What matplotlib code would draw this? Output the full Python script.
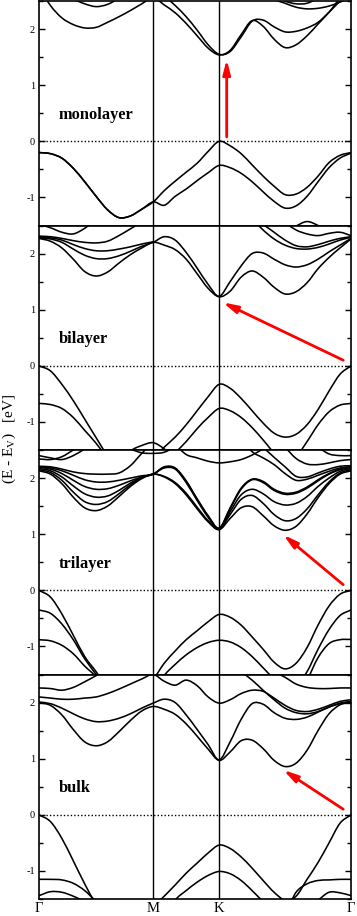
import numpy as np
import matplotlib
matplotlib.use('Agg')
import matplotlib.pyplot as plt
from matplotlib.ticker import MultipleLocator
from matplotlib.path import Path
from matplotlib.patches import PathPatch

nan = np.nan
N = None

# ---- k-path (Gamma - M - K - Gamma) ----
k_G1, k_M, k_K, k_G2 = 0.0, 0.5774, 0.9107, 1.5774
kpath = np.concatenate([np.linspace(k_G1, k_M, 11),
                        np.linspace(k_M, k_K, 7)[1:],
                        np.linspace(k_K, k_G2, 13)[1:]])
kpoint_labels = ['\u0393', 'M', 'K', '\u0393']

# ---- monolayer bands (G-M: 11 | M-K: 6 | K-G: 12) ----
mono_v1 = [-0.20,-0.22,-0.30,-0.48,-0.72,-0.98,-1.22,-1.36,-1.33,-1.21,-1.08,
           -0.88,-0.71,-0.55,-0.39,-0.18, 0.00,
           -0.08,-0.22,-0.42,-0.62,-0.80,-0.95,-0.94,-0.82,-0.62,-0.38,-0.25,-0.20]
mono_v2 = [-0.20,-0.22,-0.30,-0.48,-0.72,-0.98,-1.22,-1.36,-1.33,-1.21,-1.08,
           -1.14,-0.98,-0.85,-0.70,-0.56,-0.43,
           -0.47,-0.57,-0.72,-0.90,-1.07,-1.19,-1.15,-0.98,-0.72,-0.47,-0.30,-0.21]
mono_v3 = [N]*11 + [N]*6 + [N,N,N,N,-1.85,-1.62,-1.51,-1.43,-1.50,-1.62,-1.85,N]
mono_c1 = [2.75,2.42,2.20,2.08,2.02,2.03,2.12,2.22,2.33,2.45,2.56,
           2.43,2.29,2.10,1.88,1.66,1.54,
           1.62,1.90,2.15,2.05,1.82,1.67,1.72,1.88,2.09,2.30,2.55,2.75]
mono_c2 = [N,N,2.70,2.54,2.45,2.40,2.44,2.55,2.70,N,N] + [N]*6 + [N]*12
mono_c3 = [N]*10 + [2.80,
           2.60,2.42,2.22,1.98,1.72,1.55,
           1.60,1.86,2.14,2.16,2.04,1.95,1.96,2.02,2.12,2.30,2.50,2.70]
mono_c4 = [N]*17 + [N,N,N,2.65,2.53,2.46,2.39,2.36,2.37,2.41,2.48,2.56]
mono_c5 = [N]*17 + [N,N,N,N,2.62,2.50,2.45,2.46,2.55,2.65,N,N]

# ---- bilayer ----
bi_v1 = [0.00,-0.09,-0.33,-0.62,-0.95,-1.28,-1.60,-1.80,-1.90,-1.85,-1.65,
         -1.45,-1.27,-1.05,-0.80,-0.55,-0.33,
         -0.40,-0.58,-0.80,-1.02,-1.20,-1.27,-1.22,-1.05,-0.78,-0.45,-0.15,0.00]
bi_v2 = [-0.67,-0.69,-0.76,-0.92,-1.15,-1.38,-1.65,-1.85,-2.00,-2.00,-1.90,
         -1.75,-1.55,-1.35,-1.12,-0.92,-0.76,
         -0.80,-0.92,-1.10,-1.32,-1.55,-1.70,-1.62,-1.35,-1.05,-0.82,-0.70,-0.67]
bi_v3 = [N,N,N,N,N,N,-1.95,-1.75,-1.52,-1.42,-1.37,
         -1.48,-1.65,-1.85,N,N,N] + [N]*12
bi_c1 = [2.27,2.22,2.10,1.90,1.68,1.60,1.67,1.83,1.98,2.10,2.20,
         2.15,2.07,1.90,1.64,1.38,1.23,
         1.33,1.58,1.69,1.58,1.40,1.28,1.32,1.48,1.73,1.93,2.10,2.26]
bi_c2 = [2.28,2.26,2.20,2.08,1.97,1.91,1.91,1.96,2.04,2.13,2.20,
         2.30,2.24,2.02,1.74,1.45,1.24,
         1.50,1.78,2.00,2.01,1.90,1.80,1.76,1.80,1.90,2.03,2.15,2.27]
bi_c3 = [2.29,2.28,2.24,2.16,2.09,2.05,2.05,2.08,2.12,2.17,2.21] + [N]*6 + \
        [N,N,2.62,2.42,2.26,2.15,2.09,2.08,2.11,2.17,2.24,2.29]
bi_c4 = [2.31,2.30,2.27,2.23,2.20,2.19,2.22,2.32,2.44,2.56,N] + [N]*6 + \
        [N,N,N,2.52,2.38,2.24,2.14,2.12,2.16,2.22,2.27,2.30]
bi_c5 = [2.52,2.46,2.38,2.35,2.45,2.60,N,N,N,N,N] + [N]*6 + \
        [N,N,N,N,N,2.55,2.42,2.35,2.32,2.36,2.38,2.32]

# ---- trilayer ----
tri_v1 = [0.00,-0.12,-0.42,-0.80,-1.18,-1.45,-1.75,-1.90,-1.85,-1.72,-1.58,
          -1.30,-1.08,-0.88,-0.72,-0.56,-0.43,
          -0.48,-0.62,-0.83,-1.05,-1.28,-1.40,-1.30,-1.02,-0.62,-0.28,-0.07,0.00]
tri_v2 = [-0.35,-0.41,-0.60,-0.88,-1.22,-1.50,-1.80,-2.00,-2.10,-2.00,-1.85,
          -1.52,-1.32,-1.15,-1.02,-0.93,-0.89,
          -0.92,-1.02,-1.18,-1.38,-1.58,-1.75,-1.70,-1.45,-1.05,-0.70,-0.45,-0.35]
tri_v3 = [-0.88,-0.90,-0.98,-1.13,-1.35,-1.55,-1.90,N,N,N,N] + [N]*6 + \
         [N,N,N,N,N,-2.10,-1.90,-1.60,-1.20,-0.95,-0.88,-0.875]
tri_c1 = [2.13,2.07,1.90,1.66,1.47,1.42,1.50,1.67,1.85,1.99,2.07,
          2.02,1.90,1.70,1.45,1.22,1.08,
          1.28,1.47,1.49,1.33,1.15,1.07,1.14,1.36,1.65,1.90,2.07,2.13]
tri_c2 = [2.15,2.10,1.96,1.75,1.58,1.53,1.58,1.72,1.88,2.00,2.07,
          2.03,1.92,1.73,1.48,1.24,1.09,
          1.35,1.62,1.69,1.55,1.35,1.24,1.28,1.45,1.70,1.93,2.09,2.15]
tri_c3 = [2.17,2.13,2.02,1.86,1.72,1.66,1.68,1.78,1.91,2.01,2.07,
          2.18,2.16,1.92,1.60,1.30,1.09,
          1.40,1.70,1.80,1.72,1.58,1.52,1.55,1.67,1.85,2.00,2.12,2.17]
tri_c4 = [2.19,2.16,2.08,1.96,1.85,1.80,1.81,1.87,1.95,2.02,2.07,
          2.19,2.17,1.94,1.62,1.32,1.10,
          1.45,1.80,1.97,1.92,1.78,1.71,1.73,1.82,1.95,2.07,2.15,2.19]
tri_c5 = [2.20,2.18,2.13,2.05,1.97,1.93,1.93,1.96,2.00,2.04,2.07,
          2.20,2.18,1.95,1.63,1.33,1.11,
          1.47,1.82,1.98,1.94,1.80,1.73,1.75,1.84,1.97,2.08,2.16,2.20]
tri_e1 = [N]*17 + [N,2.70,2.47,2.36,2.24,2.08,1.96,1.98,2.05,2.12,2.18,2.20]
tri_e2 = [N]*17 + [N,N,N,2.55,2.37,2.20,2.03,2.02,2.09,2.16,2.21,2.22]
tri_e3 = [N]*17 + [N,N,N,N,N,2.55,2.35,2.25,2.24,2.27,2.31,2.33]
tri_e4 = [N]*17 + [N,N,N,N,N,N,N,N,2.55,2.43,2.40,2.40]
tri_kt = [N]*11 + [N,2.60,2.42,2.36,2.30,2.27] + [2.29,2.33,2.41,2.52,N,N,N,N,N,N,N,N]
tri_g6 = [2.40,2.36,2.33,2.40,2.52,2.65,N,N,N,N,N] + [N]*6 + [N]*12
tri_g7 = [2.34,2.33,2.38,2.50,2.62,N,N,N,N,N,N] + [N]*6 + [N]*12
tri_g8 = [2.21,2.20,2.16,2.11,2.08,2.07,2.07,2.09,2.22,2.44,2.65] + [N]*6 + [N]*12
tri_g9 = [N,N,N,N,N,N,N,2.62,2.52,2.45,2.44,
          2.46,2.56,N,N,N,N] + [N]*12

# ---- bulk ----
bulk_v1 = [0.00,-0.12,-0.42,-0.82,-1.23,-1.60,-1.90,-2.00,-2.00,-1.90,-1.65,
           -1.45,-1.25,-1.04,-0.86,-0.68,-0.54,
           -0.60,-0.75,-0.95,-1.17,-1.38,-1.52,-1.45,-1.15,-0.85,-0.50,-0.15,0.00]
bulk_v2 = [-1.15,-1.15,-1.16,-1.22,-1.35,-1.55,-1.80,-2.00,-2.10,-2.20,-2.10,
           -1.85,-1.52,-1.35,-1.20,-1.08,-1.01,
           -1.05,-1.17,-1.35,-1.55,-1.75,-1.75,-1.38,-1.23,-1.17,-1.16,-1.15,-1.15]
bulk_v3 = [-1.44,-1.37,-1.38,-1.45,-1.55,-1.70,N,N,N,N,N] + [N]*6 + \
          [N,N,N,N,N,N,-1.85,-1.65,-1.52,-1.38,-1.39,-1.44]
bulk_c1 = [2.00,1.95,1.78,1.52,1.30,1.23,1.30,1.48,1.68,1.85,1.93,
           1.88,1.79,1.62,1.40,1.17,0.97,
           1.12,1.32,1.33,1.18,0.97,0.86,0.92,1.15,1.50,1.80,1.96,2.00]
bulk_c2 = [2.01,1.98,1.90,1.80,1.71,1.66,1.67,1.72,1.80,1.90,1.99,
           2.06,2.00,1.78,1.52,1.25,0.98,
           1.30,1.70,1.98,1.97,1.82,1.72,1.70,1.74,1.83,1.92,1.98,2.01]
bulk_c3 = [2.10,2.08,2.06,2.06,2.08,2.10,2.16,2.24,2.33,2.42,2.50,
           2.38,2.31,2.40,2.30,2.10,1.99,
           2.05,2.16,2.22,2.20,2.08,1.95,1.86,1.84,1.88,1.95,2.02,2.05]
bulk_c4 = [2.26,2.25,2.22,2.27,2.37,2.48,2.60,N,N,N,N] + [N]*6 + \
          [N,N,N,N,2.55,2.45,2.33,2.27,2.25,2.25,2.26,2.26]
bulk_c5 = [N]*17 + [N,2.55,2.40,2.22,2.05,1.90,1.82,1.80,1.84,1.92,1.99,2.02]

panel_names = ['monolayer', 'bilayer', 'trilayer', 'bulk']
panel_bands = [
    [mono_v1, mono_v2, mono_v3, mono_c1, mono_c2, mono_c3, mono_c4, mono_c5],
    [bi_v1, bi_v2, bi_v3, bi_c1, bi_c2, bi_c3, bi_c4, bi_c5],
    [tri_v1, tri_v2, tri_v3, tri_c1, tri_c2, tri_c3, tri_c4, tri_c5,
     tri_e1, tri_e2, tri_e3, tri_e4, tri_kt, tri_g6, tri_g7, tri_g8, tri_g9],
    [bulk_v1, bulk_v2, bulk_v3, bulk_c1, bulk_c2, bulk_c3, bulk_c4, bulk_c5],
]
# red arrows: (tail k, tail E) -> (head k, head E)
arrow_tail = [(0.949, 0.08), (1.538, 0.10), (1.538, 0.10), (1.538, 0.10)]
arrow_head = [(0.949, 1.46), (0.929, 1.13), (1.235, 0.99), (1.235, 0.80)]


def band_path(x, y):
    """Smooth (Catmull-Rom as cubic Bezier) drawing path through the read points."""
    verts, codes = [], []
    finite = np.isfinite(y)
    i, n = 0, len(y)
    while i < n:
        if not finite[i]:
            i += 1
            continue
        j = i
        while j + 1 < n and finite[j + 1]:
            j += 1
        px, py = x[i:j + 1], y[i:j + 1]
        m = len(px)
        if m >= 2:
            ex = np.concatenate([[2 * px[0] - px[1]], px, [2 * px[-1] - px[-2]]])
            ey = np.concatenate([[2 * py[0] - py[1]], py, [2 * py[-1] - py[-2]]])
            verts.append((px[0], py[0]))
            codes.append(Path.MOVETO)
            for s in range(m - 1):
                a = s + 1
                c1 = (ex[a] + (ex[a + 1] - ex[a - 1]) / 6, ey[a] + (ey[a + 1] - ey[a - 1]) / 6)
                c2 = (ex[a + 1] - (ex[a + 2] - ex[a]) / 6, ey[a + 1] - (ey[a + 2] - ey[a]) / 6)
                verts += [c1, c2, (ex[a + 1], ey[a + 1])]
                codes += [Path.CURVE4] * 3
        i = j + 1
    return Path(verts, codes) if verts else None


plt.rcParams['font.family'] = ['Liberation Serif', 'DejaVu Serif']
plt.rcParams['mathtext.fontset'] = 'stix'

W, H = 357, 916
fig = plt.figure(figsize=(W / 100, H / 100), dpi=100)
left_px, right_px, top_px, bot_px = 39, 351, 1, 899
ph = (bot_px - top_px) / 4

for i, (name, bands) in enumerate(zip(panel_names, panel_bands)):
    y0 = bot_px - ph * (4 - i)
    ax = fig.add_axes([left_px / W, 1 - (y0 + ph) / H,
                       (right_px - left_px) / W, ph / H])
    ax.set_xlim(k_G1, k_G2)
    ax.set_ylim(-1.5, 2.5)
    for b in bands:
        e = np.array([nan if v is None else v for v in b], dtype=float)
        p = band_path(kpath, e)
        if p is not None:
            ax.add_patch(PathPatch(p, facecolor='none', edgecolor='black',
                                   lw=1.15, capstyle='round', joinstyle='round'))
    ax.axhline(0, color='black', lw=1.0, ls=(0, (1, 1.5)))
    for kv in (k_M, k_K):
        ax.axvline(kv, color='black', lw=1.0)
    ax.annotate('', xy=arrow_head[i], xytext=arrow_tail[i],
                arrowprops=dict(arrowstyle='-|>,head_length=0.85,head_width=0.22',
                                color='red', lw=2.0, mutation_scale=10,
                                shrinkA=0, shrinkB=0))
    ax.text(0.10, 0.40, name, fontsize=11.8, fontweight='bold', ha='left',
            va='baseline')
    ax.set_yticks([-1, 0, 1, 2])
    ax.set_yticklabels(['-1', '0', '1', '2'])
    ax.yaxis.set_minor_locator(MultipleLocator(0.5))
    ax.tick_params(axis='y', which='both', direction='in', left=True,
                   right=True, labelsize=7.5, width=1.0)
    ax.tick_params(axis='y', which='major', length=4.5, pad=3)
    ax.tick_params(axis='y', which='minor', length=2.6)
    ax.set_xticks([k_G1, k_M, k_K, k_G2])
    ax.tick_params(axis='x', length=0, labelsize=10.5, pad=2)
    if i < 3:
        ax.set_xticklabels([])
    else:
        ax.set_xticklabels(kpoint_labels)
    for sp in ax.spines.values():
        sp.set_linewidth(1.2)

fig.text(9 / W, 1 - 439 / H, '(E - E$_\\mathrm{V}$)   [eV]', rotation=90,
         ha='center', va='center', fontsize=11)
fig.savefig('out.png', dpi=100)
